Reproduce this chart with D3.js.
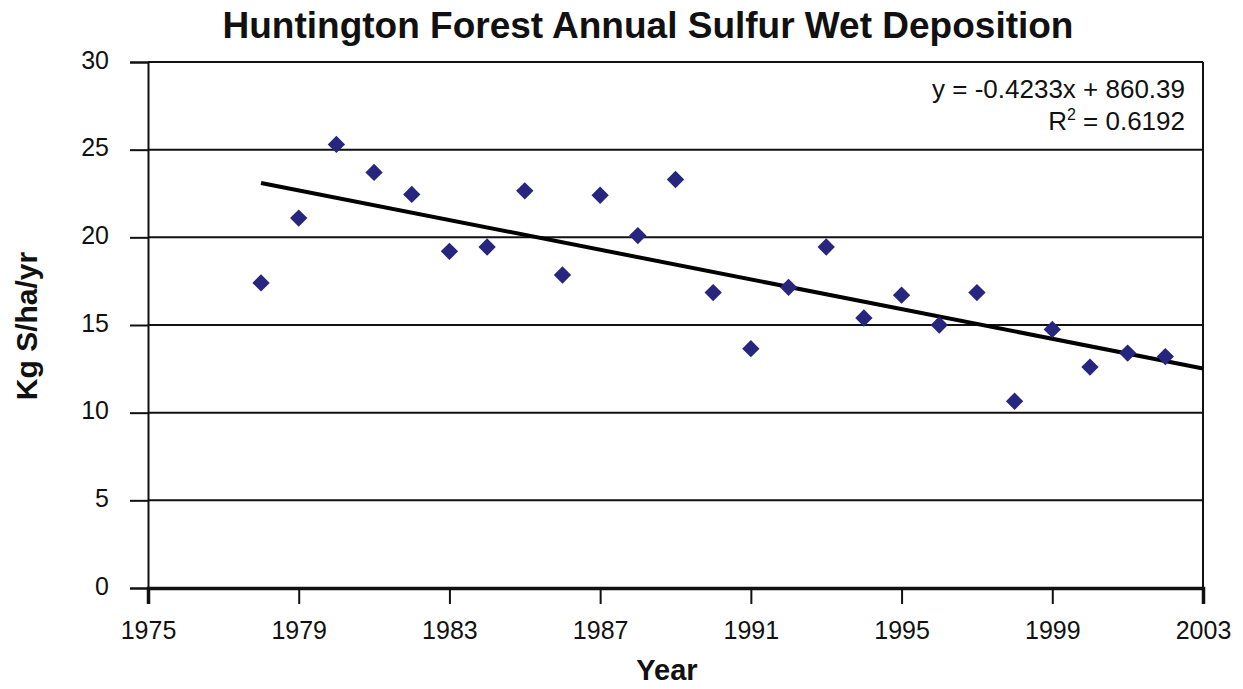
<!DOCTYPE html>
<html>
<head>
<meta charset="utf-8">
<script src="https://cdn.jsdelivr.net/npm/d3@7"></script>
<style>
  body { margin: 0; background: white; }
  text { font-family: "Liberation Sans", Arial, sans-serif; }
</style>
</head>
<body>
<div id="chart"></div>
<script>
// data
const years = [1978, 1979, 1980, 1981, 1982, 1983, 1984, 1985, 1986, 1987, 1988, 1989, 1990,
  1991, 1992, 1993, 1994, 1995, 1996, 1997, 1998, 1999, 2000, 2001, 2002];
const deposition = [17.4, 21.1, 25.3, 23.7, 22.45, 19.2, 19.45, 22.65, 17.85, 22.4, 20.1, 23.3, 16.85,
  13.65, 17.15, 19.45, 15.4, 16.7, 15.0, 16.85, 10.65, 14.75, 12.6, 13.4, 13.2];
const xTicks = [1975, 1979, 1983, 1987, 1991, 1995, 1999, 2003];
const yTicks = [0, 5, 10, 15, 20, 25, 30];
// trend line as printed on the chart
const trendSlope = -0.4233;
const trendIntercept = 860.39;
const trendYears = [1978, 2003];
const eqLines = ['y = -0.4233x + 860.39', 'R2 = 0.6192'];

const W = 1243, H = 689;
const MARGIN = { TOP: 62, BOTTOM: 101, LEFT: 148, RIGHT: 40 };
const WIDTH = W - MARGIN.LEFT - MARGIN.RIGHT;
const HEIGHT = H - MARGIN.TOP - MARGIN.BOTTOM;

const svg = d3.select('#chart').append('svg')
  .attr('width', W).attr('height', H)
  .style('background', 'white')
  .style('display', 'block');

const g = svg.append('g').attr('transform', `translate(${MARGIN.LEFT}, ${MARGIN.TOP})`);

const x = d3.scaleLinear().domain([1975, 2003]).range([0, WIDTH]);
const y = d3.scaleLinear().domain([0, 30]).range([HEIGHT, 0]);

// gridlines
g.selectAll('.grid').data(yTicks.filter(d => d > 0)).enter().append('line')
  .attr('x1', 0).attr('x2', WIDTH)
  .attr('y1', d => y(d)).attr('y2', d => y(d))
  .attr('stroke', '#111').attr('stroke-width', 2);

// right border
g.append('line')
  .attr('x1', WIDTH).attr('x2', WIDTH).attr('y1', 0).attr('y2', HEIGHT)
  .attr('stroke', '#111').attr('stroke-width', 2);

// y axis
const yAxis = g.append('g')
  .call(d3.axisLeft(y).tickValues(yTicks).tickSize(18).tickPadding(21));
yAxis.select('.domain').attr('stroke', '#111').attr('stroke-width', 2);
yAxis.selectAll('.tick line').attr('stroke', '#111').attr('stroke-width', 2);
yAxis.selectAll('.tick text').attr('font-size', 25).attr('fill', '#111').attr('dy', '0.25em')
  .style('font-family', '"Liberation Sans", Arial, sans-serif');

// x axis
const xAxis = g.append('g').attr('transform', `translate(0, ${HEIGHT})`)
  .call(d3.axisBottom(x).tickValues(xTicks).tickFormat(d3.format('d')).tickSize(16).tickPadding(17));
xAxis.select('.domain').attr('stroke', '#111').attr('stroke-width', 3.5);
xAxis.selectAll('.tick line').attr('stroke', '#111').attr('stroke-width', 2);
xAxis.selectAll('.tick text').attr('font-size', 25).attr('fill', '#111')
  .style('font-family', '"Liberation Sans", Arial, sans-serif');

// trend line
const line = d3.line().x(d => x(d)).y(d => y(trendSlope * d + trendIntercept));
g.append('path')
  .attr('d', line(trendYears))
  .attr('fill', 'none')
  .attr('stroke', '#000')
  .attr('stroke-width', 4);

// points
const diamond = d3.symbol().type(d3.symbolSquare).size(150);
g.selectAll('.pt').data(years).enter().append('path')
  .attr('d', diamond)
  .attr('transform', (d, i) => `translate(${x(d)}, ${y(deposition[i])}) rotate(45)`)
  .attr('fill', '#26267f');

// equation
const eq = g.append('text')
  .attr('text-anchor', 'end')
  .attr('font-size', 26)
  .attr('fill', '#111');
eq.append('tspan').attr('x', WIDTH - 18).attr('y', 36).text(eqLines[0]);
const r2 = eq.append('tspan').attr('x', WIDTH - 18).attr('y', 68);
r2.append('tspan').text('R');
r2.append('tspan').attr('font-size', 16).attr('dy', -10).text('2');
r2.append('tspan').attr('dy', 10).text(eqLines[1].slice(2));

// title
svg.append('text')
  .attr('x', 648).attr('y', 38)
  .attr('text-anchor', 'middle')
  .attr('font-size', 37).attr('font-weight', 'bold')
  .attr('fill', '#111')
  .text('Huntington Forest Annual Sulfur Wet Deposition');

// y label
svg.append('text')
  .attr('transform', `translate(37, 326) rotate(-90)`)
  .attr('text-anchor', 'middle')
  .attr('font-size', 30).attr('font-weight', 'bold')
  .attr('fill', '#111')
  .text('Kg S/ha/yr');

// x label
svg.append('text')
  .attr('x', 667).attr('y', 680)
  .attr('text-anchor', 'middle')
  .attr('font-size', 29).attr('font-weight', 'bold')
  .attr('fill', '#111')
  .text('Year');
</script>
</body>
</html>
